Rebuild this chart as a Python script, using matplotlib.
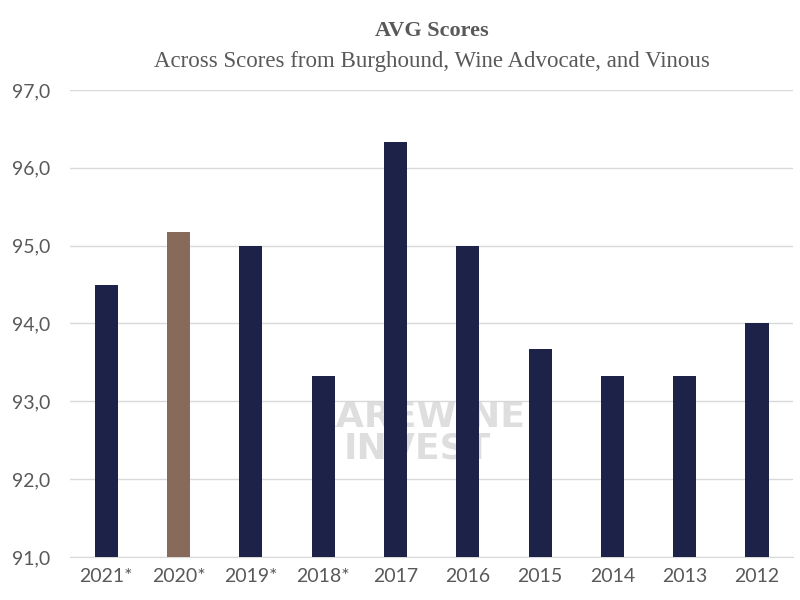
import matplotlib

matplotlib.use("Agg")
import matplotlib.pyplot as plt

years = ["2021*", "2020*", "2019*", "2018*", "2017", "2016", "2015", "2014", "2013", "2012"]
scores = [94.5, 95.17, 95.0, 93.33, 96.33, 95.0, 93.67, 93.33, 93.33, 94.0]
highlight = "2020*"

NAVY = "#1c2248"
BROWN = "#876a5a"
GRID = "#d9d9d9"
TICK = "#595959"

fig = plt.figure(figsize=(8, 6), dpi=100)
ax = fig.add_axes([0.0875, 0.0717, 0.904, 0.7783])

colors = [BROWN if y == highlight else NAVY for y in years]
x = range(len(years))
ax.bar(x, scores, width=0.32, color=colors, zorder=3)

ax.set_ylim(91, 97)
ax.set_xlim(-0.5, len(years) - 0.5)
ax.set_yticks([91, 92, 93, 94, 95, 96, 97])
ax.set_yticklabels([f"{v:.1f}".replace(".", ",") for v in range(91, 98)])
ax.set_xticks(list(x))
ax.set_xticklabels(years)
ax.grid(axis="y", color=GRID, linewidth=1.0, zorder=0)
ax.set_axisbelow(True)
for s in ["top", "right", "left"]:
    ax.spines[s].set_visible(False)
ax.spines["bottom"].set_color(GRID)
ax.tick_params(axis="both", length=0, colors=TICK, labelsize=14)
ax.tick_params(axis="y", pad=14)
ax.tick_params(axis="x", pad=8)
for lbl in ax.get_xticklabels() + ax.get_yticklabels():
    lbl.set_family("Lato")

# faint watermark
ax.text(4.3, 92.6, "RAREWINE\nINVEST", ha="center", va="center",
        fontsize=26, fontweight="bold", color="#d6d6d6", alpha=0.8,
        family="DejaVu Sans", zorder=1, linespacing=0.9)

fig.text(0.54, 0.948, "AVG Scores", ha="center", va="center",
         fontsize=16, fontweight="bold", color="#595959",
         family="Liberation Serif")
fig.text(0.54, 0.898, "Across Scores from Burghound, Wine Advocate, and Vinous",
         ha="center", va="center", fontsize=16.5, color="#595959",
         family="Liberation Serif")

fig.savefig("out.png", dpi=100)
